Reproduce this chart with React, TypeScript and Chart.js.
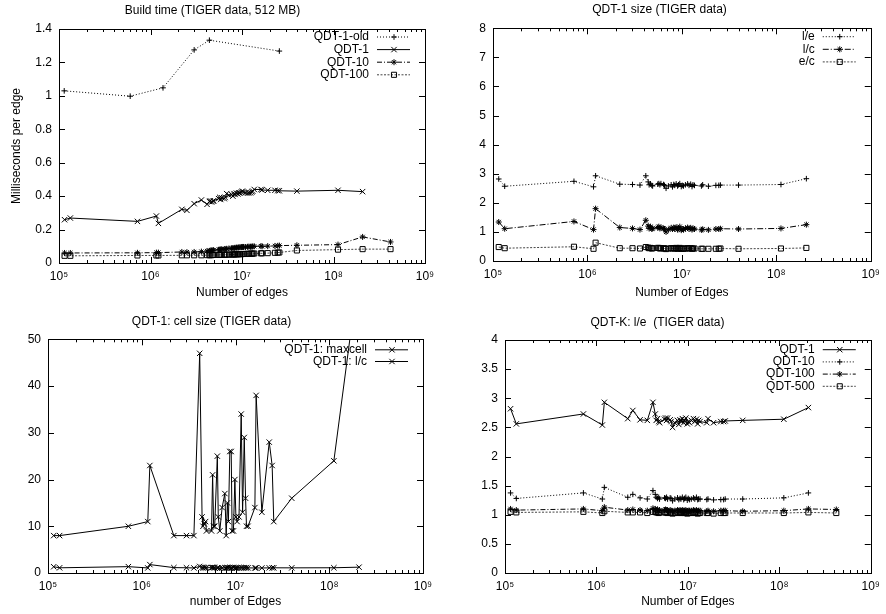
import React, { useEffect, useRef } from 'react';
import { Chart, registerables } from 'chart.js';

Chart.register(...registerables);

// ---------- data ----------
const EDGES = [
  1.15e5, 1.33e5, 7.2e5, 1.16e6, 1.22e6, 2.2e6, 2.5e6, 3.0e6, 3.6e6, 4.15e6,
  4.4e6, 4.5e6, 4.65e6, 4.8e6, 4.9e6, 5.55e6, 5.7e6, 5.85e6, 6.0e6, 6.4e6,
  6.55e6, 6.8e6, 7.2e6, 7.7e6, 7.95e6, 8.2e6, 8.4e6, 8.7e6, 9.0e6, 9.2e6,
  9.5e6, 9.85e6, 1.01e7, 1.04e7, 1.09e7, 1.15e7, 1.19e7, 1.24e7, 1.28e7, 1.31e7,
  1.36e7, 1.61e7, 1.66e7, 1.91e7, 2.29e7, 2.46e7, 2.56e7, 3.98e7, 1.12e8, 2.08e8,
];
const EDGES_EXT = [...EDGES, 4.2e8];
const OLD_EDGES = [1.14e5, 6.0e5, 1.37e6, 3.0e6, 4.4e6, 2.56e7];

// Build time (ms per edge)
const BUILD_QDT1_OLD = [1.03, 0.998, 1.048, 1.275, 1.333, 1.268];
const BUILD_QDT1 = [
  0.259, 0.269, 0.249, 0.281, 0.237, 0.321, 0.315, 0.355, 0.377, 0.351,
  0.368, 0.372, 0.365, 0.37, 0.372, 0.385, 0.393, 0.38, 0.39, 0.385,
  0.392, 0.415, 0.405, 0.41, 0.4, 0.415, 0.41, 0.418, 0.413, 0.42,
  0.42, 0.425, 0.43, 0.425, 0.42, 0.418, 0.42, 0.42, 0.425, 0.43,
  0.44, 0.44, 0.437, 0.435, 0.435, 0.433, 0.432, 0.43, 0.435, 0.427,
];
const BUILD_QDT10 = [
  0.06, 0.06, 0.061, 0.062, 0.062, 0.066, 0.065, 0.066, 0.068, 0.072,
  0.072, 0.074, 0.075, 0.076, 0.077, 0.079, 0.08, 0.081, 0.082, 0.083,
  0.084, 0.085, 0.087, 0.088, 0.089, 0.09, 0.091, 0.092, 0.092, 0.093,
  0.094, 0.095, 0.096, 0.096, 0.095, 0.097, 0.098, 0.097, 0.098, 0.099,
  0.1, 0.101, 0.1, 0.101, 0.102, 0.103, 0.104, 0.106, 0.11, 0.156, 0.126,
];
const BUILD_QDT100 = [
  0.043, 0.043, 0.045, 0.045, 0.045, 0.046, 0.046, 0.046, 0.046, 0.047,
  0.047, 0.047, 0.047, 0.048, 0.048, 0.048, 0.049, 0.049, 0.049, 0.049,
  0.05, 0.05, 0.05, 0.051, 0.051, 0.051, 0.052, 0.052, 0.052, 0.053,
  0.053, 0.053, 0.054, 0.054, 0.054, 0.055, 0.055, 0.056, 0.056, 0.056,
  0.057, 0.058, 0.058, 0.059, 0.061, 0.062, 0.063, 0.075, 0.08, 0.083, 0.083,
];

// QDT-1 size
const SIZE_LE = [
  2.82, 2.57, 2.74, 2.55, 2.93, 2.64, null, 2.63, 2.61, 2.93,
  2.72, 2.62, 2.65, 2.6, 2.58, 2.64, 2.66, 2.62, 2.66, 2.63,
  2.6, 2.5, 2.58, 2.62, 2.55, 2.63, 2.6, 2.65, 2.58, 2.62,
  2.66, 2.56, 2.6, 2.58, 2.62, 2.65, 2.6, 2.64, 2.56, 2.62,
  2.6, 2.58, 2.62, 2.57, 2.6, 2.6, 2.61, 2.61, 2.63, 2.83,
];
const SIZE_LC = [
  1.34, 1.11, 1.36, 1.08, 1.8, 1.15, null, 1.12, 1.08, 1.4,
  1.2, 1.12, 1.18, 1.1, 1.12, 1.15, 1.18, 1.12, 1.15, 1.12,
  1.1, 1.0, 1.08, 1.14, 1.1, 1.15, 1.1, 1.16, 1.08, 1.12,
  1.18, 1.06, 1.1, 1.08, 1.12, 1.15, 1.1, 1.14, 1.08, 1.12,
  1.1, 1.07, 1.09, 1.07, 1.1, 1.1, 1.11, 1.1, 1.12, 1.25,
];
const SIZE_EC = [
  0.48, 0.44, 0.49, 0.42, 0.63, 0.44, null, 0.44, 0.43, 0.48,
  0.46, 0.44, 0.45, 0.43, 0.44, 0.45, 0.45, 0.43, 0.44, 0.44,
  0.43, 0.41, 0.43, 0.44, 0.43, 0.44, 0.43, 0.45, 0.42, 0.43,
  0.45, 0.42, 0.43, 0.42, 0.43, 0.44, 0.43, 0.44, 0.42, 0.43,
  0.43, 0.42, 0.42, 0.42, 0.42, 0.42, 0.43, 0.42, 0.43, 0.45,
];

// QDT-1 cell size
const CELL_MAX = [
  8, 8, 10, 11, 23, 8, null, 8, 8, 47,
  12, 10, 10.5, 11, 9, 9, 21, 10, 10, 25,
  12, 9, 14, 17, 8, 15, 11, 26, 26, 9,
  9, 20, 12, 11, 12, 34, 13, 29, 16, 10,
  10, 14, 38, 13, 28, 23, 11, 16, 24, 65,
];
const CELL_LC = SIZE_LC;

// QDT-K l/e
const QDTK_1 = [
  2.82, 2.56, 2.73, 2.54, 2.93, 2.65, 2.79, 2.63, 2.62, 2.93,
  2.73, 2.62, 2.65, 2.6, 2.58, 2.64, 2.66, 2.62, 2.66, 2.63,
  2.6, 2.5, 2.58, 2.62, 2.55, 2.63, 2.6, 2.65, 2.58, 2.62,
  2.66, 2.56, 2.6, 2.58, 2.62, 2.65, 2.6, 2.64, 2.56, 2.62,
  2.6, 2.58, 2.65, 2.58, 2.6, 2.6, 2.61, 2.62, 2.64, 2.84,
];
const QDTK_10 = [
  1.375, 1.28, 1.375, 1.27, 1.47, 1.3, 1.35, 1.29, 1.27, 1.415,
  1.35, 1.3, 1.28, 1.3, 1.27, 1.29, 1.28, 1.3, 1.27, 1.29,
  1.28, 1.24, 1.27, 1.29, 1.26, 1.28, 1.27, 1.3, 1.26, 1.28,
  1.3, 1.25, 1.28, 1.26, 1.27, 1.29, 1.27, 1.3, 1.26, 1.27,
  1.27, 1.26, 1.27, 1.255, 1.26, 1.26, 1.27, 1.27, 1.29, 1.375,
];
const QDTK_100 = [
  1.1, 1.08, 1.1, 1.07, 1.13, 1.08, 1.09, 1.08, 1.07, 1.11,
  1.1, 1.08, 1.09, 1.07, 1.08, 1.08, 1.09, 1.08, 1.08, 1.08,
  1.07, 1.06, 1.07, 1.08, 1.07, 1.08, 1.07, 1.08, 1.07, 1.07,
  1.08, 1.06, 1.07, 1.07, 1.07, 1.08, 1.07, 1.08, 1.06, 1.07,
  1.07, 1.06, 1.07, 1.06, 1.07, 1.07, 1.07, 1.06, 1.07, 1.1, 1.09,
];
const QDTK_500 = [
  1.05, 1.04, 1.05, 1.03, 1.06, 1.04, 1.04, 1.04, 1.03, 1.05,
  1.05, 1.04, 1.04, 1.03, 1.04, 1.04, 1.04, 1.04, 1.03, 1.04,
  1.03, 1.02, 1.03, 1.04, 1.03, 1.04, 1.03, 1.04, 1.03, 1.03,
  1.04, 1.02, 1.03, 1.03, 1.03, 1.04, 1.03, 1.04, 1.02, 1.03,
  1.03, 1.03, 1.03, 1.02, 1.03, 1.03, 1.03, 1.03, 1.03, 1.04, 1.03,
];

// ticks
const X_TICK_VALUES = [1e5, 1e6, 1e7, 1e8, 1e9];
const X_TICK_LABELS = ['10\u2075', '10\u2076', '10\u2077', '10\u2078', '10\u2079'];
const Y_TICKS_BUILD = [0, 0.2, 0.4, 0.6, 0.8, 1, 1.2, 1.4];
const Y_TICKS_SIZE = [0, 1, 2, 3, 4, 5, 6, 7, 8];
const Y_TICKS_CELL = [0, 10, 20, 30, 40, 50];
const Y_TICKS_LE = [0, 0.5, 1, 1.5, 2, 2.5, 3, 3.5, 4];

// ---------- styling helpers ----------
const FONT = 'Liberation Sans, Arial, sans-serif';
const FS = 12;
const DOT = [1, 2];
const DASHDOT = [5, 2, 1, 2];
const FINE = [2, 1.5];
const SOLID: number[] = [];
const RADIUS: Record<string, number> = { cross: 2.8, crossRot: 3.8, star: 3, rect: 3.6 };

function series(label: string, xs: number[], ys: (number | null)[], mark: string, dash: number[], color = '#000') {
  const data: { x: number; y: number }[] = [];
  xs.forEach((x, i) => {
    const v = ys[i];
    if (v !== null && v !== undefined) data.push({ x, y: v });
  });
  return {
    label,
    data,
    borderColor: color,
    borderWidth: 1,
    borderDash: dash,
    pointStyle: mark,
    pointRadius: RADIUS[mark],
    pointBorderColor: '#000',
    pointBackgroundColor: 'rgba(0,0,0,0)',
    pointBorderWidth: 1,
    tension: 0,
    fill: false,
  };
}

function drawMarker(ctx: CanvasRenderingContext2D, style: string, x: number, y: number, r: number) {
  ctx.beginPath();
  const d = r * Math.SQRT1_2;
  if (style === 'cross' || style === 'star') {
    ctx.moveTo(x - r, y); ctx.lineTo(x + r, y);
    ctx.moveTo(x, y - r); ctx.lineTo(x, y + r);
  }
  if (style === 'crossRot' || style === 'star') {
    ctx.moveTo(x - d, y - d); ctx.lineTo(x + d, y + d);
    ctx.moveTo(x - d, y + d); ctx.lineTo(x + d, y - d);
  }
  if (style === 'rect') {
    ctx.rect(x - d, y - d, 2 * d, 2 * d);
  }
  ctx.stroke();
}

const gnuPlugin = {
  id: 'gnu',
  beforeDatasetsDraw(chart: any, _args: any, opts: any) {
    const { ctx, chartArea } = chart;
    ctx.save();
    ctx.font = `${FS}px ${FONT}`;
    ctx.fillStyle = '#000';
    ctx.textAlign = 'right';
    ctx.textBaseline = 'middle';
    chart.data.datasets.forEach((ds: any, i: number) => {
      const y = chartArea.top + opts.legendTop + i * opts.legendGap;
      ctx.fillText(ds.label, chartArea.right - 56, y);
      ctx.strokeStyle = ds.borderColor;
      ctx.lineWidth = 1;
      ctx.setLineDash(ds.borderDash);
      ctx.beginPath();
      ctx.moveTo(chartArea.right - 48, y);
      ctx.lineTo(chartArea.right - 15, y);
      ctx.stroke();
      ctx.setLineDash([]);
      ctx.strokeStyle = '#000';
      drawMarker(ctx, ds.pointStyle, chartArea.right - 31, y, ds.pointRadius);
    });
    ctx.restore();
  },
  afterDraw(chart: any) {
    const { ctx, chartArea } = chart;
    const { left, right, top, bottom } = chartArea;
    ctx.save();
    ctx.strokeStyle = '#000';
    ctx.lineWidth = 1;
    ctx.setLineDash([]);
    ctx.beginPath();
    const xs = chart.scales.x;
    xs.ticks.forEach((t: any) => {
      const e = Math.log10(t.value);
      const major = Math.abs(e - Math.round(e)) < 1e-9;
      const len = major ? 6 : 3;
      const px = Math.round(xs.getPixelForValue(t.value)) + 0.5;
      ctx.moveTo(px, bottom); ctx.lineTo(px, bottom - len);
      ctx.moveTo(px, top); ctx.lineTo(px, top + len);
    });
    const ys = chart.scales.y;
    ys.ticks.forEach((t: any) => {
      const py = Math.round(ys.getPixelForValue(t.value)) + 0.5;
      ctx.moveTo(left, py); ctx.lineTo(left + 6, py);
      ctx.moveTo(right, py); ctx.lineTo(right - 6, py);
    });
    ctx.stroke();
    ctx.strokeRect(Math.round(left) + 0.5, Math.round(top) + 0.5, Math.round(right - left), Math.round(bottom - top));
    ctx.restore();
  },
};

interface Spec {
  title: string;
  titlePad: { top: number; bottom: number };
  xTitle: string;
  xTitlePad: number;
  yTitle?: string;
  yTicks: number[];
  yWidth: number;
  xHeight: number;
  padRight: number;
  legendTop: number;
  legendGap: number;
  datasets: any[];
}

function makeConfig(s: Spec): any {
  const minor: number[] = [];
  for (let e = 5; e < 9; e++) for (let m = 2; m <= 9; m++) minor.push(m * Math.pow(10, e));
  return {
    type: 'line',
    data: { datasets: s.datasets },
    plugins: [gnuPlugin],
    options: {
      responsive: false,
      animation: false,
      devicePixelRatio: 1,
      events: [],
      layout: { padding: { left: 0, right: s.padRight, top: 0, bottom: 0 } },
      plugins: {
        legend: { display: false },
        tooltip: { enabled: false },
        title: {
          display: true,
          text: s.title,
          color: '#000',
          font: { family: FONT, size: FS, weight: 'normal' },
          padding: s.titlePad,
        },
        gnu: { legendTop: s.legendTop, legendGap: s.legendGap },
      },
      scales: {
        x: {
          type: 'logarithmic',
          min: X_TICK_VALUES[0],
          max: X_TICK_VALUES[X_TICK_VALUES.length - 1],
          grid: { display: false, drawTicks: false },
          border: { display: false },
          afterBuildTicks: (scale: any) => {
            scale.ticks = [...X_TICK_VALUES, ...minor].sort((a, b) => a - b).map((v) => ({ value: v }));
          },
          afterFit: (scale: any) => { scale.height = s.xHeight; },
          ticks: {
            autoSkip: false,
            maxRotation: 0,
            padding: 6,
            color: '#000',
            font: { family: FONT, size: FS },
            callback: (v: number) => {
              const i = X_TICK_VALUES.findIndex((t) => Math.abs(t - v) / t < 1e-9);
              return i >= 0 ? X_TICK_LABELS[i] : '';
            },
          },
          title: {
            display: true,
            text: s.xTitle,
            color: '#000',
            font: { family: FONT, size: FS },
            padding: { top: 0, bottom: s.xTitlePad },
          },
        },
        y: {
          type: 'linear',
          min: s.yTicks[0],
          max: s.yTicks[s.yTicks.length - 1],
          grid: { display: false, drawTicks: false },
          border: { display: false },
          afterBuildTicks: (scale: any) => {
            scale.ticks = s.yTicks.map((v) => ({ value: v }));
          },
          afterFit: (scale: any) => { scale.width = s.yWidth; },
          ticks: {
            padding: 7,
            color: '#000',
            font: { family: FONT, size: FS },
            callback: (v: number) => String(+Number(v).toFixed(3)),
          },
          title: {
            display: !!s.yTitle,
            text: s.yTitle || '',
            color: '#000',
            font: { family: FONT, size: FS },
            padding: { top: 9.5, bottom: 0 },
          },
        },
      },
    },
  };
}

const SPECS: { left: number; top: number; spec: Spec }[] = [
  {
    left: 0, top: 0,
    spec: {
      title: 'Build time (TIGER data, 512 MB)',
      titlePad: { top: 3.8, bottom: 10.8 },
      xTitle: 'Number of edges', xTitlePad: 6.8,
      yTitle: 'Milliseconds per edge',
      yTicks: Y_TICKS_BUILD, yWidth: 59, xHeight: 44, padRight: 18,
      legendTop: 8, legendGap: 12.6,
      datasets: [
        series('QDT-1-old', OLD_EDGES, BUILD_QDT1_OLD, 'cross', DOT),
        series('QDT-1', EDGES, BUILD_QDT1, 'crossRot', SOLID),
        series('QDT-10', EDGES_EXT, BUILD_QDT10, 'star', DASHDOT),
        series('QDT-100', EDGES_EXT, BUILD_QDT100, 'rect', FINE, '#444'),
      ],
    },
  },
  {
    left: 443, top: 0,
    spec: {
      title: 'QDT-1 size (TIGER data)',
      titlePad: { top: 2.8, bottom: 11.1 },
      xTitle: 'Number of Edges', xTitlePad: 7.5,
      yTicks: Y_TICKS_SIZE, yWidth: 50, xHeight: 46, padRight: 10,
      legendTop: 8.4, legendGap: 12.6,
      datasets: [
        series('l/e', EDGES, SIZE_LE, 'cross', DOT),
        series('l/c', EDGES, SIZE_LC, 'star', [6, 2, 1, 2]),
        series('e/c', EDGES, SIZE_EC, 'rect', FINE, '#444'),
      ],
    },
  },
  {
    left: 0, top: 307,
    spec: {
      title: 'QDT-1: cell size (TIGER data)',
      titlePad: { top: 7.8, bottom: 10.1 },
      xTitle: 'number of Edges', xTitlePad: 4.8,
      yTicks: Y_TICKS_CELL, yWidth: 48, xHeight: 41, padRight: 20,
      legendTop: 10.5, legendGap: 11.7,
      datasets: [
        series('QDT-1: maxcell', EDGES, CELL_MAX, 'crossRot', SOLID),
        series('QDT-1: l/c', EDGES, CELL_LC, 'crossRot', SOLID),
      ],
    },
  },
  {
    left: 443, top: 307,
    spec: {
      title: 'QDT-K: l/e  (TIGER data)',
      titlePad: { top: 8.8, bottom: 9.8 },
      xTitle: 'Number of Edges', xTitlePad: 4.8,
      yTicks: Y_TICKS_LE, yWidth: 62, xHeight: 41, padRight: 14,
      legendTop: 9.7, legendGap: 12.2,
      datasets: [
        series('QDT-1', EDGES, QDTK_1, 'crossRot', SOLID),
        series('QDT-10', EDGES, QDTK_10, 'cross', DOT),
        series('QDT-100', EDGES_EXT, QDTK_100, 'star', DASHDOT),
        series('QDT-500', EDGES_EXT, QDTK_500, 'rect', FINE, '#444'),
      ],
    },
  },
];

function GnuChart({ spec, left, top }: { spec: Spec; left: number; top: number }) {
  const ref = useRef<HTMLCanvasElement>(null);
  useEffect(() => {
    const chart = new Chart(ref.current as HTMLCanvasElement, makeConfig(spec));
    return () => chart.destroy();
  }, [spec]);
  return (
    <canvas
      ref={ref}
      width={443}
      height={307}
      style={{ position: 'absolute', left, top, width: 443, height: 307 }}
    />
  );
}

export default function App() {
  return (
    <div style={{ position: 'fixed', left: 0, top: 0, width: 886, height: 614, background: '#fff' }}>
      {SPECS.map((s, i) => (
        <GnuChart key={i} spec={s.spec} left={s.left} top={s.top} />
      ))}
    </div>
  );
}
